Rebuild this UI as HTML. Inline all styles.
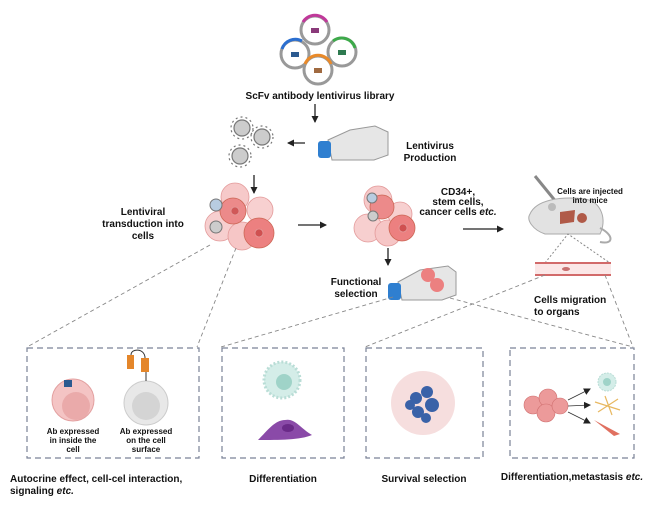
<!DOCTYPE html>
<html><head><meta charset="utf-8"><style>
html,body{margin:0;padding:0;background:#fff;}
svg{display:block;font-family:"Liberation Sans",Arial,sans-serif;}
.b{font-weight:bold;font-size:10px;fill:#111;}
.s{font-weight:bold;font-size:8px;fill:#111;}
</style></head><body>
<svg width="660" height="507" viewBox="0 0 660 507" xmlns="http://www.w3.org/2000/svg">
<defs>
<marker id="ah" markerWidth="8" markerHeight="8" refX="6" refY="4" orient="auto" markerUnits="userSpaceOnUse"><path d="M0,0.5 L7,4 L0,7.5z" fill="#222"/></marker>
</defs>
<!-- plasmids -->
<g fill="none" stroke-width="3">
<circle cx="315" cy="30" r="14" stroke="#999"/><path d="M303,22 A14,14 0 0 1 327,22" stroke="#c0399a"/>
<circle cx="295" cy="54" r="14" stroke="#999"/><path d="M282,49 A14,14 0 0 1 302,41" stroke="#2b6fd0"/>
<circle cx="342" cy="52" r="14" stroke="#999"/><path d="M333,41 A14,14 0 0 1 355,48" stroke="#3daa4a"/>
<circle cx="318" cy="70" r="14" stroke="#999"/><path d="M305,64 A14,14 0 0 1 331,64" stroke="#e98a2a"/>
</g>
<rect x="311" y="28" width="8" height="5" fill="#8a3a7a"/><rect x="291" y="52" width="8" height="5" fill="#2b5a90"/>
<rect x="338" y="50" width="8" height="5" fill="#2e7a50"/><rect x="314" y="68" width="8" height="5" fill="#a06a40"/>
<text class="b" x="320" y="99" text-anchor="middle">ScFv antibody lentivirus library</text>
<line x1="315" y1="104" x2="315" y2="122" stroke="#222" stroke-width="1.3" marker-end="url(#ah)"/>
<!-- flask 1 -->
<path d="M328,140 L350,130 L375,126 L388,132 L388,155 L374,160 L332,160 Z" fill="#e6e6e6" stroke="#999"/>
<rect x="318" y="141" width="13" height="17" rx="3" fill="#2f7fd0"/>
<text class="b" x="430" y="149" text-anchor="middle">Lentivirus</text>
<text class="b" x="430" y="161" text-anchor="middle">Production</text>
<line x1="305" y1="143" x2="288" y2="143" stroke="#222" stroke-width="1.3" marker-end="url(#ah)"/>
<!-- viruses -->
<g stroke="#777" stroke-width="1.2">
<g fill="#ccc"><circle cx="242" cy="128" r="8"/><circle cx="262" cy="137" r="8"/><circle cx="240" cy="156" r="8"/></g>
<g stroke-dasharray="2 3" fill="none"><circle cx="242" cy="128" r="11"/><circle cx="262" cy="137" r="11"/><circle cx="240" cy="156" r="11"/></g>
</g>
<line x1="254" y1="175" x2="254" y2="193" stroke="#222" stroke-width="1.3" marker-end="url(#ah)"/>
<!-- cluster 1 -->
<g stroke="#e39a9a" stroke-width="0.8">
<circle cx="235" cy="197" r="14" fill="#f6c9c9"/><circle cx="220" cy="226" r="15" fill="#f7cfcf"/>
<circle cx="242" cy="236" r="14" fill="#f6c6c6"/><circle cx="260" cy="210" r="13" fill="#f7d0d0"/>
<circle cx="233" cy="211" r="13" fill="#ec8a8a" stroke="#c65"/><circle cx="235" cy="211" r="4" fill="#d05858"/>
<circle cx="259" cy="233" r="15" fill="#ec8080" stroke="#c65"/><circle cx="259" cy="233" r="4" fill="#d05050"/>
</g>
<circle cx="216" cy="205" r="6" fill="#b8cce0" stroke="#777"/><circle cx="216" cy="227" r="6" fill="#ccc" stroke="#777"/>
<text class="b" x="143" y="215" text-anchor="middle">Lentiviral</text>
<text class="b" x="143" y="227" text-anchor="middle">transduction into</text>
<text class="b" x="143" y="239" text-anchor="middle">cells</text>
<line x1="298" y1="225" x2="326" y2="225" stroke="#222" stroke-width="1.3" marker-end="url(#ah)"/>
<!-- cluster 2 -->
<g stroke="#e39a9a" stroke-width="0.8">
<circle cx="378" cy="200" r="14" fill="#f6c9c9"/><circle cx="368" cy="228" r="14" fill="#f7cfcf"/>
<circle cx="388" cy="233" r="13" fill="#f6c6c6"/><circle cx="400" cy="214" r="12" fill="#f7d0d0"/>
<circle cx="382" cy="207" r="12" fill="#ec8a8a" stroke="#c65"/>
<circle cx="402" cy="228" r="13" fill="#ec8080" stroke="#c65"/><circle cx="403" cy="228" r="4" fill="#d05050"/>
</g>
<circle cx="372" cy="198" r="5" fill="#b8cce0" stroke="#777"/><circle cx="373" cy="216" r="5" fill="#ccc" stroke="#777"/>
<text class="b" x="458" y="195" text-anchor="middle">CD34+,</text>
<text class="b" x="458" y="205" text-anchor="middle">stem cells,</text>
<text class="b" x="458" y="215" text-anchor="middle">cancer cells <tspan font-style="italic">etc.</tspan></text>
<line x1="463" y1="229" x2="503" y2="229" stroke="#222" stroke-width="1.3" marker-end="url(#ah)"/>
<line x1="388" y1="248" x2="388" y2="265" stroke="#222" stroke-width="1.3" marker-end="url(#ah)"/>
<!-- flask 2 -->
<path d="M398,282 L420,270 L448,266 L456,272 L456,295 L442,300 L402,300 Z" fill="#e6e6e6" stroke="#999"/>
<circle cx="428" cy="275" r="7" fill="#ec8080"/><circle cx="437" cy="285" r="7" fill="#ec8080"/>
<rect x="388" y="283" width="13" height="17" rx="3" fill="#2f7fd0"/>
<text class="b" x="356" y="285" text-anchor="middle">Functional</text>
<text class="b" x="356" y="297" text-anchor="middle">selection</text>
<!-- mouse -->
<line x1="535" y1="176" x2="557" y2="203" stroke="#888" stroke-width="3"/>
<path d="M530,214 C536,200 560,196 585,199 C602,202 607,220 600,234 L545,234 C533,230 526,220 530,214Z" fill="#e2e2e2" stroke="#aaa"/>
<path d="M600,228 C614,235 614,245 600,242" fill="none" stroke="#aaa" stroke-width="2"/>
<path d="M560,212 L575,210 L574,222 L560,224Z" fill="#b05a48"/><circle cx="582" cy="218" r="5" fill="#b05a48"/>
<circle cx="552" cy="207" r="4" fill="#bbb"/>
<text class="s" x="590" y="194" text-anchor="middle">Cells are injected</text>
<text class="s" x="590" y="203" text-anchor="middle">into mice</text>
<g stroke="#888" stroke-dasharray="2 2" fill="none"><path d="M545,263 L568,234 L610,263"/></g>
<rect x="535" y="263" width="76" height="12" fill="#fbe7e7"/>
<line x1="535" y1="263" x2="611" y2="263" stroke="#d26a6a" stroke-width="2"/>
<line x1="535" y1="275" x2="611" y2="275" stroke="#d26a6a" stroke-width="2"/>
<ellipse cx="566" cy="269" rx="4" ry="2" fill="#c87070"/>
<text class="b" x="534" y="303">Cells migration</text>
<text class="b" x="534" y="315">to organs</text>
<!-- connector dashes -->
<g stroke="#888" stroke-dasharray="4 3" fill="none" stroke-width="0.9">
<path d="M210,245 L27,347"/><path d="M236,248 L197,347"/>
<path d="M393,297 L221,347"/><path d="M450,298 L633,347"/>
<path d="M545,275 L365,347"/><path d="M605,275 L633,347"/>
</g>
<!-- boxes -->
<g stroke="#7a8296" stroke-dasharray="6 4" fill="none" stroke-width="1.2">
<rect x="27" y="348" width="172" height="110"/><rect x="222" y="348" width="122" height="110"/>
<rect x="366" y="348" width="117" height="110"/><rect x="510" y="348" width="124" height="110"/>
</g>
<!-- box1 -->
<circle cx="73" cy="400" r="21" fill="#f4c4c4" stroke="#e3a0a0"/><circle cx="76" cy="406" r="14" fill="#eaaaaa"/>
<rect x="64" y="380" width="8" height="7" fill="#2b5a90"/>
<circle cx="146" cy="403" r="22" fill="#e8e8e8" stroke="#ccc"/><circle cx="146" cy="406" r="14" fill="#d4d4d4"/>
<line x1="146" y1="381" x2="146" y2="366" stroke="#333"/>
<rect x="127" y="355" width="7" height="14" fill="#e4862a"/><rect x="141" y="358" width="8" height="14" fill="#e4862a"/>
<path d="M131,355 C131,348 145,348 145,358" fill="none" stroke="#333"/>
<text class="s" x="73" y="434" text-anchor="middle">Ab expressed</text><text class="s" x="73" y="443" text-anchor="middle">in inside the</text><text class="s" x="73" y="452" text-anchor="middle">cell</text>
<text class="s" x="146" y="434" text-anchor="middle">Ab expressed</text><text class="s" x="146" y="443" text-anchor="middle">on the cell</text><text class="s" x="146" y="452" text-anchor="middle">surface</text>
<!-- box2 -->
<circle cx="282" cy="380" r="18" fill="#d4ede8" stroke="#b9ddd6" stroke-width="3" stroke-dasharray="2 2"/><circle cx="284" cy="382" r="8" fill="#9fd3c8"/>
<path d="M258,440 C268,430 275,420 285,420 C295,418 300,428 312,435 C300,440 280,440 258,440Z" fill="#8a4aa8"/><ellipse cx="288" cy="428" rx="6" ry="4" fill="#6a2a88"/>
<!-- box3 -->
<circle cx="423" cy="403" r="32" fill="#f6dede"/>
<g fill="#3a62a8"><circle cx="416" cy="398" r="6"/><circle cx="427" cy="392" r="6"/><circle cx="432" cy="405" r="7"/><circle cx="418" cy="412" r="6"/><circle cx="426" cy="418" r="5"/><circle cx="410" cy="405" r="5"/></g>
<!-- box4 -->
<g fill="#ec9a9a" stroke="#d07070" stroke-width="0.6"><circle cx="533" cy="405" r="9"/><circle cx="548" cy="398" r="9"/><circle cx="546" cy="413" r="9"/><circle cx="560" cy="406" r="8"/></g>
<g stroke="#333" stroke-width="0.8" marker-end="url(#ah)"><line x1="568" y1="400" x2="590" y2="389"/><line x1="568" y1="406" x2="590" y2="405"/><line x1="568" y1="412" x2="590" y2="423"/></g>
<circle cx="607" cy="382" r="9" fill="#d4ede8" stroke="#b9ddd6" stroke-dasharray="2 1"/><circle cx="607" cy="382" r="4" fill="#9fd3c8"/>
<g stroke="#e8b860" stroke-width="1.2"><line x1="595" y1="402" x2="620" y2="410"/><line x1="605" y1="396" x2="612" y2="415"/><line x1="598" y1="412" x2="618" y2="399"/></g>
<path d="M594,420 L620,434 L614,436 Z" fill="#e07060"/>
<!-- bottom labels -->
<text class="b" x="10" y="482">Autocrine effect, cell-cel interaction,</text>
<text class="b" x="10" y="494">signaling <tspan font-style="italic">etc.</tspan></text>
<text class="b" x="283" y="482" text-anchor="middle">Differentiation</text>
<text class="b" x="424" y="482" text-anchor="middle">Survival selection</text>
<text class="b" x="572" y="480" text-anchor="middle">Differentiation,metastasis <tspan font-style="italic">etc.</tspan></text>
</svg>
</body></html>
